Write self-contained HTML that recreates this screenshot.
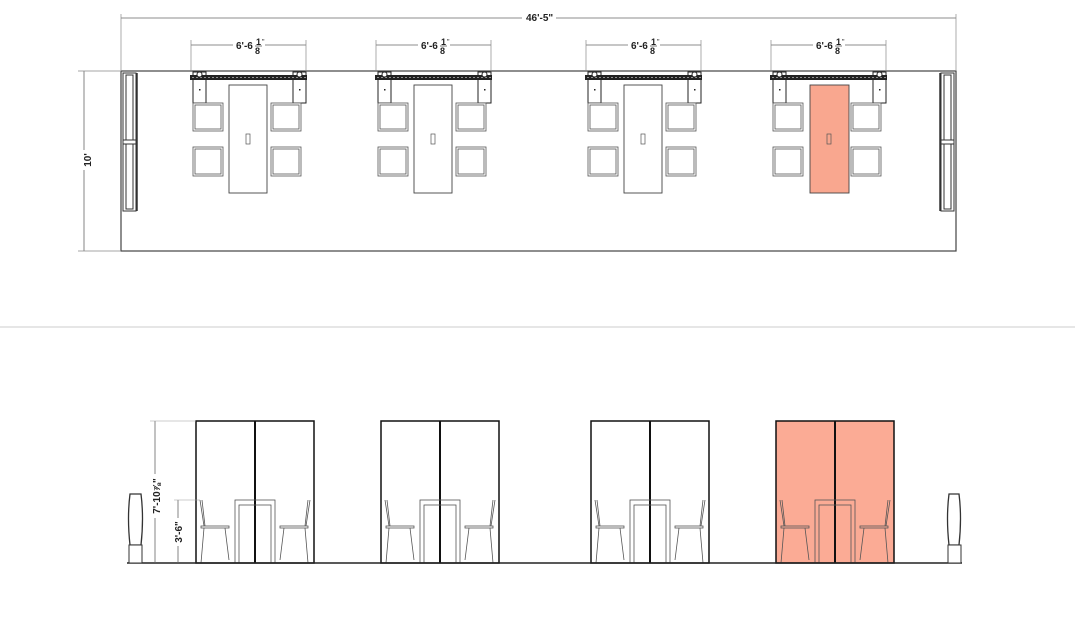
<!DOCTYPE html>
<html><head><meta charset="utf-8"><style>
html,body{margin:0;padding:0;background:#fff;}
svg{display:block;font-family:"Liberation Sans",sans-serif;}
</style></head><body>
<svg width="1075" height="632" viewBox="0 0 1075 632" xmlns="http://www.w3.org/2000/svg">
<defs>
<pattern id="dots" x="0" y="0" width="4" height="5" patternUnits="userSpaceOnUse">
<rect width="4" height="5" fill="#222"/><rect x="1.5" y="2" width="1" height="1" fill="#fff"/>
</pattern>
<g id="plan">
  <line x1="0" y1="45" x2="115" y2="45" stroke="#666" stroke-width="0.8"/>
  <line x1="0" y1="40" x2="0" y2="72" stroke="#888" stroke-width="0.7"/>
  <line x1="115" y1="40" x2="115" y2="72" stroke="#888" stroke-width="0.7"/>
  <rect x="42" y="36" width="32" height="18" fill="#fff"/>
  <text x="45" y="49" font-size="10" font-weight="bold" fill="#222">6'-6</text>
  <text x="65" y="45" font-size="9" font-weight="bold" fill="#222">1</text>
  <line x1="64" y1="46" x2="71" y2="46" stroke="#222" stroke-width="0.6"/>
  <text x="64" y="54" font-size="9" font-weight="bold" fill="#222">8</text>
  <text x="71" y="44" font-size="7" fill="#222">"</text>
  <rect x="-1" y="75" width="117" height="5" fill="url(#dots)"/>
  <rect x="2" y="72" width="13" height="31" fill="#fff" stroke="#222" stroke-width="1"/>
  <rect x="102" y="72" width="13" height="31" fill="#fff" stroke="#222" stroke-width="1"/>
  <rect x="-1" y="75" width="117" height="5" fill="url(#dots)"/>
  <circle cx="8.5" cy="74.5" r="2.5" fill="#fff" stroke="#222"/>
  <circle cx="108.5" cy="74.5" r="2.5" fill="#fff" stroke="#222"/>
  <rect x="8" y="89" width="1.5" height="1.5" fill="#222"/>
  <rect x="108" y="89" width="1.5" height="1.5" fill="#222"/>
  <g fill="#fff" stroke="#555" stroke-width="0.8">
    <rect x="2" y="103" width="30" height="28"/><rect x="4" y="105" width="26" height="24"/>
    <rect x="2" y="147" width="30" height="29"/><rect x="4" y="149" width="26" height="25"/>
    <rect x="80" y="103" width="30" height="28"/><rect x="82" y="105" width="26" height="24"/>
    <rect x="80" y="147" width="30" height="29"/><rect x="82" y="149" width="26" height="25"/>
  </g>
</g>
<g id="elev">
  <rect x="0" y="421" width="118" height="142" fill="none" stroke="#111" stroke-width="1.5"/>
  <line x1="59" y1="421" x2="59" y2="563" stroke="#111" stroke-width="2"/>
  <g fill="none" stroke="#555" stroke-width="0.8">
    <rect x="39" y="500" width="40" height="63"/>
    <rect x="43" y="505" width="32" height="58"/>
    <path d="M4 500 L8 526 M6 500 L9 526"/>
    <rect x="5" y="526" width="28" height="2"/>
    <path d="M8 528 L5 563 M29 528 L33 560"/>
    <path d="M114 500 L110 526 M112 500 L109 526"/>
    <rect x="84" y="526" width="28" height="2"/>
    <path d="M88 528 L84 560 M109 528 L112 563"/>
  </g>
</g>
</defs>

<line x1="121" y1="18" x2="956" y2="18" stroke="#666" stroke-width="0.8"/>
<line x1="121" y1="14" x2="121" y2="70" stroke="#888" stroke-width="0.7"/>
<line x1="956" y1="14" x2="956" y2="70" stroke="#888" stroke-width="0.7"/>
<rect x="522" y="10" width="34" height="12" fill="#fff"/>
<text x="526" y="21" font-size="10" font-weight="bold" fill="#222">46'-5"</text>

<line x1="84" y1="71" x2="84" y2="251" stroke="#666" stroke-width="0.8"/>
<line x1="78" y1="71" x2="120" y2="71" stroke="#888" stroke-width="0.7"/>
<line x1="78" y1="251" x2="120" y2="251" stroke="#888" stroke-width="0.7"/>
<rect x="80" y="150" width="12" height="20" fill="#fff"/>
<text x="91" y="160" font-size="10" font-weight="bold" fill="#222" transform="rotate(-90 91 160)" text-anchor="middle">10'</text>

<rect x="121" y="71" width="835" height="180" fill="none" stroke="#444" stroke-width="1.2"/>

<g fill="#fff" stroke="#333" stroke-width="1">
  <rect x="123" y="73" width="13" height="138"/><rect x="126" y="75" width="7" height="134"/>
  <line x1="137" y1="73" x2="137" y2="211" stroke-width="1.5"/>
  <rect x="123" y="140" width="13" height="4"/>
  <rect x="941" y="73" width="13" height="138"/><rect x="944" y="75" width="7" height="134"/>
  <line x1="940" y1="73" x2="940" y2="211" stroke-width="1.5"/>
  <rect x="941" y="140" width="13" height="4"/>
</g>

<use href="#plan" transform="translate(191 0)"/>
<use href="#plan" transform="translate(376 0)"/>
<use href="#plan" transform="translate(586 0)"/>
<use href="#plan" transform="translate(771 0)"/>
<g stroke="#444" stroke-width="0.9">
  <rect x="229" y="85" width="38" height="108" fill="#fff"/>
  <rect x="414" y="85" width="38" height="108" fill="#fff"/>
  <rect x="624" y="85" width="38" height="108" fill="#fff"/>
  <rect x="810" y="85" width="39" height="108" fill="#f9a78f"/>
</g>
<g fill="none" stroke="#555" stroke-width="0.7">
  <rect x="246" y="134" width="4" height="10"/><rect x="431" y="134" width="4" height="10"/>
  <rect x="641" y="134" width="4" height="10"/><rect x="827" y="134" width="4" height="10"/>
</g>

<line x1="0" y1="327" x2="1075" y2="327" stroke="#ccc" stroke-width="1"/>

<rect x="776" y="421" width="118" height="142" fill="#fbab95"/>
<use href="#elev" transform="translate(196 0)"/>
<use href="#elev" transform="translate(381 0)"/>
<use href="#elev" transform="translate(591 0)"/>
<use href="#elev" transform="translate(776 0)"/>
<line x1="127" y1="563" x2="962" y2="563" stroke="#222" stroke-width="1.5"/>

<g fill="#fff" stroke="#333" stroke-width="1">
  <path d="M130 494 L141 494 Q144 518 141 545 L130 545 Q127 518 130 494 Z" stroke-width="1.3"/>
  <rect x="129" y="545" width="13" height="18"/>
  <path d="M949 494 L959 494 Q962 518 959 545 L949 545 Q946 518 949 494 Z" stroke-width="1.3"/>
  <rect x="948" y="545" width="13" height="18"/>
</g>

<line x1="155" y1="421" x2="155" y2="563" stroke="#666" stroke-width="0.8"/>
<line x1="150" y1="421" x2="196" y2="421" stroke="#999" stroke-width="0.6"/>
<line x1="178" y1="500" x2="178" y2="563" stroke="#666" stroke-width="0.8"/>
<line x1="174" y1="500" x2="200" y2="500" stroke="#999" stroke-width="0.6"/>
<rect x="147" y="474" width="16" height="44" fill="#fff"/>
<text x="160" y="496" font-size="10" font-weight="bold" fill="#222" transform="rotate(-90 160 496)" text-anchor="middle">7'-10⅞"</text>
<rect x="171" y="518" width="14" height="28" fill="#fff"/>
<text x="182" y="532" font-size="10" font-weight="bold" fill="#222" transform="rotate(-90 182 532)" text-anchor="middle">3'-6"</text>
</svg>
</body></html>
